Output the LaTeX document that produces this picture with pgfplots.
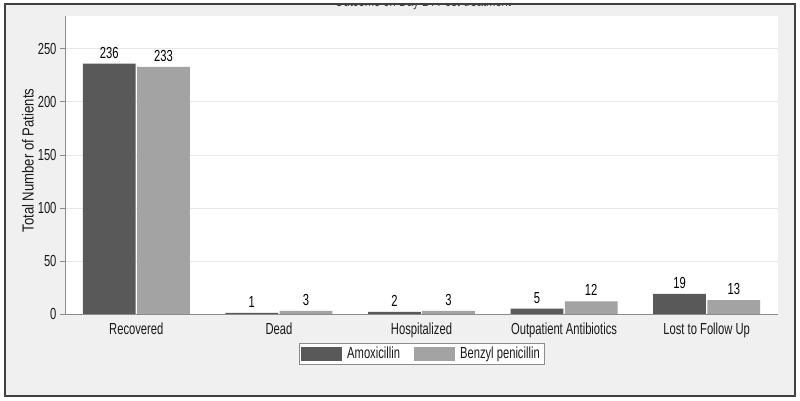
\documentclass[border=0pt]{standalone}
\usepackage{fontspec}
\setmainfont{Liberation Sans}[FakeStretch=0.7]
\newfontfamily\ylabfont{Liberation Sans}[FakeStretch=0.82]
\usepackage{pgfplots}
\pgfplotsset{compat=1.18}
\definecolor{darkbar}{HTML}{595959}
\definecolor{lightbar}{HTML}{A3A3A3}
\definecolor{framegray}{HTML}{F0F0F0}
\definecolor{gridgray}{HTML}{E6E6E6}
\definecolor{axisgray}{HTML}{8C8C8C}
\begin{document}
\begin{tikzpicture}[x=1pt,y=1pt]
\useasboundingbox (0,0) rectangle (800,401);
\fill[white] (0,0) rectangle (800,401);
\fill[framegray] (5,5) rectangle (795,397);
\begin{scope}
\clip (5,0) rectangle (795,396.5);
\node[anchor=base, text=black!75, font=\fontsize{16}{18}\selectfont, inner sep=0pt] at (423,394) {Outcome on Day 14 Post-treatment};
\end{scope}
\draw[line width=1.5pt, black!75] (5,5) rectangle (795,397);
\begin{axis}[
  at={(65pt,87pt)}, anchor=south west,
  width=713pt, height=298pt, scale only axis,
  xmin=-0.5, xmax=4.5, ymin=0, ymax=281,
  axis lines*=left,
  axis line style={axisgray, line width=0.8pt},
  axis background/.style={fill=white},
  ytick={0,50,...,250},
  ymajorgrids, grid style={gridgray, line width=0.8pt},
  xtick={0,1,2,3,4},
  xticklabels={Recovered, Dead, Hospitalized, Outpatient Antibiotics, Lost to Follow Up},
  x tick style={draw=none},
  y tick style={axisgray, line width=0.8pt},
  tick align=outside, major tick length=5pt,
  xticklabel style={font=\fontsize{16}{18}\selectfont, text=black!90},
  yticklabel style={font=\fontsize{16}{18}\selectfont, text=black!90},
  /pgf/number format/assume math mode=true,
  ybar, bar width=0.37,
  nodes near coords,
  nodes near coords style={font=\fontsize{16}{18}\selectfont, text=black, yshift=2pt},
  ylabel={Total Number of Patients},
  ylabel style={font=\ylabfont\fontsize{16}{18}\selectfont, text=black!90, at={(axis description cs:-0.052,0.515)}, anchor=center},
  legend style={at={(0.5,-0.097)}, anchor=north, legend columns=2, draw=axisgray, fill=white,
    font=\fontsize{16}{18}\selectfont, text=black!90, inner sep=2pt,
    nodes={inner sep=2pt},
    /tikz/every even column/.append style={column sep=12pt}},
  legend image code/.code={\path[#1,draw=none] (0pt,-7pt) rectangle (41pt,7pt); \path (44pt,0pt);},
  clip=false,
]
\addplot[fill=darkbar, draw=none, bar shift=-0.19] coordinates {(0,236) (1,1) (2,2) (3,5) (4,19)};
\addplot[fill=lightbar, draw=none, bar shift=0.19] coordinates {(0,233) (1,3) (2,3) (3,12) (4,13)};
\legend{Amoxicillin, Benzyl penicillin}
\end{axis}
\end{tikzpicture}
\end{document}
